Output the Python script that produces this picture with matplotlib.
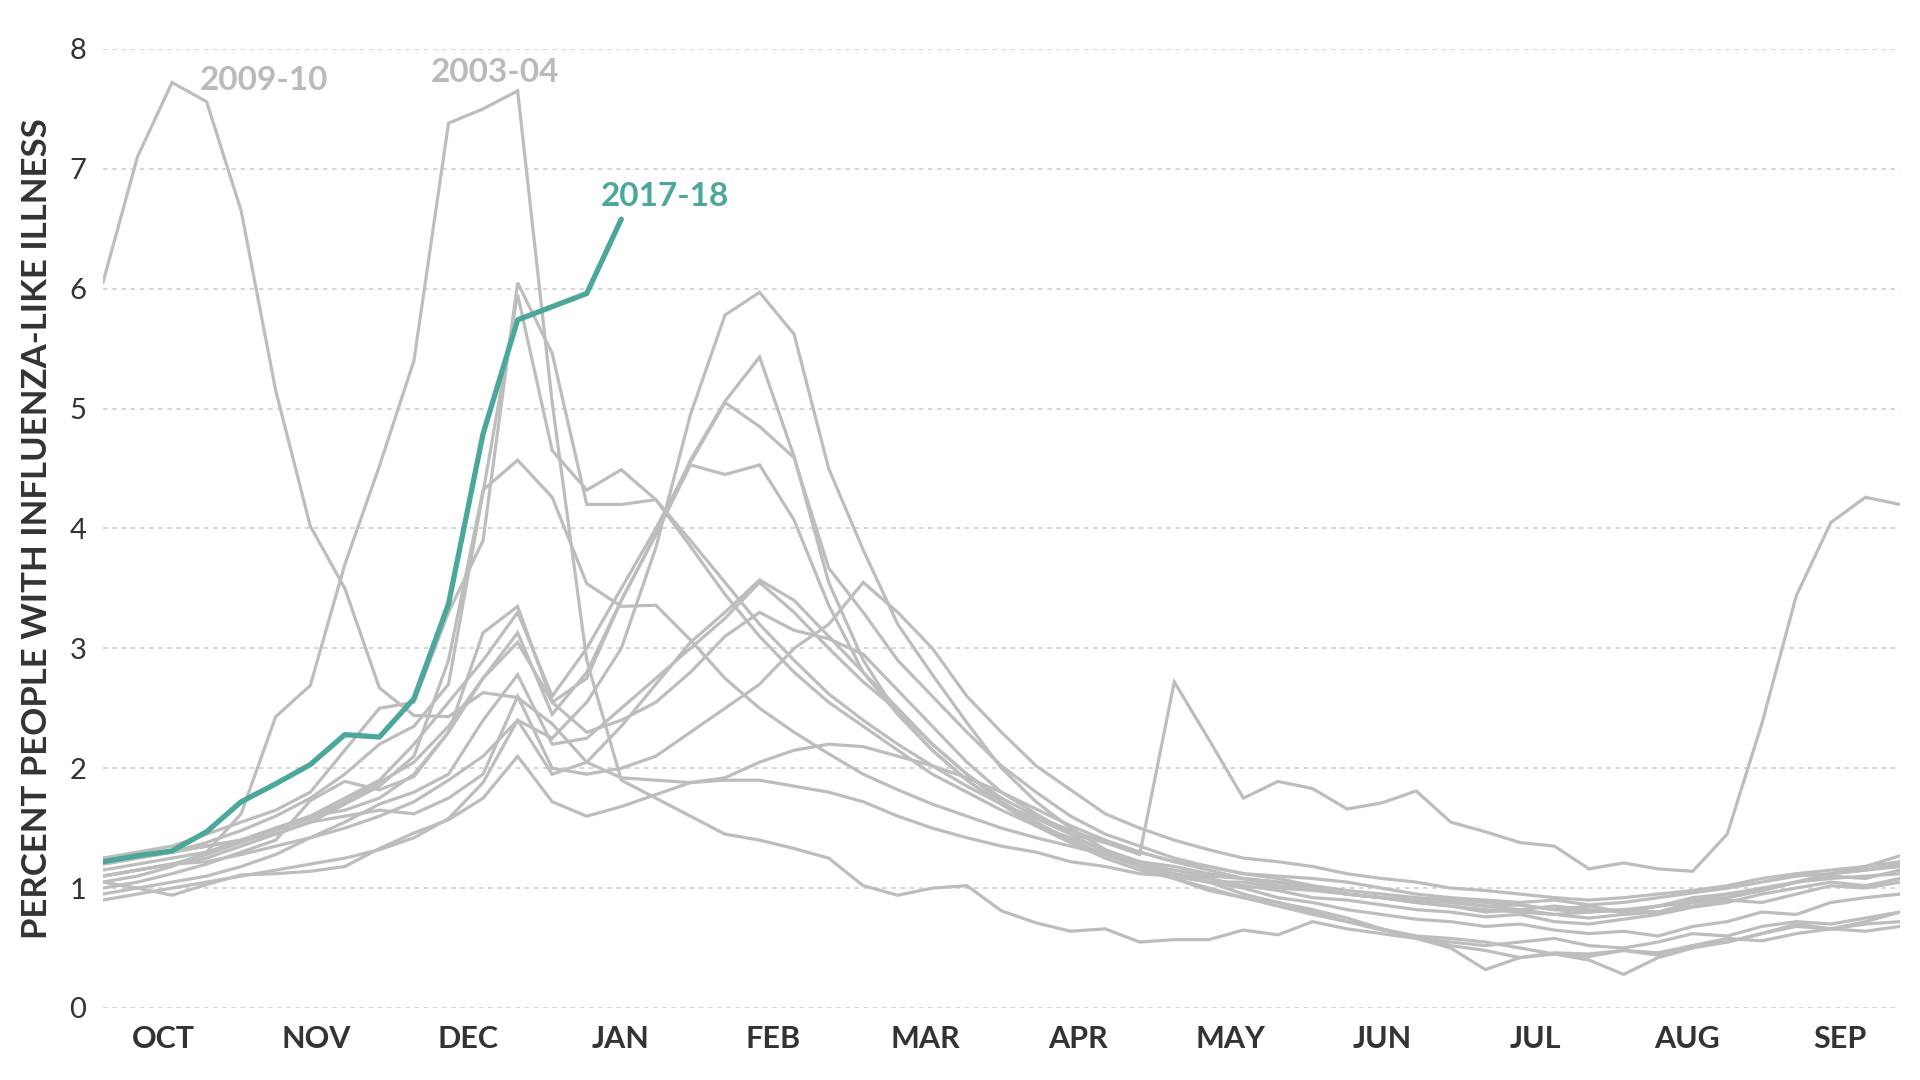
import matplotlib
matplotlib.use("Agg")
import matplotlib.pyplot as plt

plt.rcParams['font.family'] = ['Lato', 'DejaVu Sans']

# weekly ILI % from week 40 (early October) to week 39 of the next year
s0304 = [1.05, 1.10, 1.18, 1.30, 1.62, 2.43, 2.69, 3.70, 4.52, 5.40, 7.38, 7.50, 7.65,
         5.05, 2.90, 1.90, 1.75, 1.60, 1.45, 1.40, 1.33, 1.25, 1.02, 0.94, 1.00, 1.02,
         0.81, 0.71, 0.64, 0.66, 0.55, 0.57, 0.57, 0.65, 0.61, 0.72, 0.66, 0.62, 0.58,
         0.55, 0.52, 0.55, 0.58, 0.52, 0.50, 0.55, 0.62, 0.60, 0.68, 0.72, 0.70, 0.75, 0.80]
s0405 = [1.10, 1.15, 1.20, 1.28, 1.38, 1.48, 1.58, 1.72, 1.88, 2.05, 2.35, 2.75, 3.05,
         2.55, 2.75, 3.40, 3.95, 4.57, 5.06, 5.43, 4.60, 3.55, 2.90, 2.45, 2.15, 1.90,
         1.70, 1.52, 1.38, 1.25, 1.15, 1.08, 0.98, 0.92, 0.88, 0.80, 0.72, 0.65, 0.60,
         0.52, 0.48, 0.42, 0.45, 0.43, 0.48, 0.46, 0.52, 0.55, 0.62, 0.68, 0.66, 0.70, 0.72]
s0506 = [1.00, 1.05, 1.12, 1.20, 1.30, 1.40, 1.73, 1.89, 1.82, 1.93, 2.30, 3.13, 3.35,
         2.55, 2.30, 2.40, 2.55, 2.80, 3.10, 3.30, 3.15, 3.08, 2.95, 2.65, 2.35, 2.05,
         1.80, 1.62, 1.45, 1.30, 1.22, 1.10, 1.05, 0.95, 0.88, 0.82, 0.75, 0.66, 0.58,
         0.50, 0.32, 0.42, 0.46, 0.45, 0.48, 0.44, 0.52, 0.58, 0.56, 0.62, 0.66, 0.64, 0.68]
s0607 = [0.95, 1.00, 1.05, 1.10, 1.18, 1.28, 1.42, 1.55, 1.70, 1.80, 1.95, 2.40, 2.78,
         2.20, 2.25, 2.50, 2.75, 3.00, 3.25, 3.55, 3.30, 3.00, 2.72, 2.48, 2.20, 1.95,
         1.72, 1.55, 1.40, 1.28, 1.18, 1.08, 1.00, 0.92, 0.85, 0.78, 0.72, 0.66, 0.60,
         0.58, 0.55, 0.50, 0.45, 0.40, 0.28, 0.42, 0.50, 0.55, 0.62, 0.70, 0.66, 0.72, 0.80]
s0708 = [0.90, 0.95, 1.00, 1.05, 1.10, 1.15, 1.20, 1.25, 1.32, 1.42, 1.58, 1.88, 2.40,
         2.25, 2.55, 3.00, 3.84, 4.95, 5.78, 5.97, 5.62, 4.50, 3.82, 3.20, 2.78, 2.38,
         2.00, 1.72, 1.50, 1.32, 1.20, 1.12, 1.05, 1.00, 0.92, 0.88, 0.82, 0.78, 0.74,
         0.72, 0.68, 0.70, 0.65, 0.62, 0.64, 0.60, 0.68, 0.72, 0.80, 0.78, 0.88, 0.92, 0.95]
s0809 = [1.10, 1.15, 1.20, 1.22, 1.28, 1.35, 1.42, 1.50, 1.60, 1.72, 1.90, 2.10, 2.40,
         1.95, 2.05, 2.35, 2.70, 3.05, 3.30, 3.57, 3.40, 3.10, 2.80, 2.50, 2.20, 1.95,
         1.75, 1.60, 1.48, 1.38, 1.28, 2.72, 2.24, 1.75, 1.89, 1.83, 1.66, 1.71, 1.81,
         1.55, 1.47, 1.38, 1.35, 1.16, 1.21, 1.16, 1.14, 1.45, 2.37, 3.44, 4.05, 4.26, 4.20]
s0910 = [6.05, 7.10, 7.72, 7.56, 6.65, 5.15, 4.02, 3.50, 2.67, 2.44, 2.43, 2.63, 2.59,
         2.37, 2.05, 1.92, 1.90, 1.88, 1.90, 1.90, 1.85, 1.80, 1.72, 1.60, 1.50, 1.42,
         1.35, 1.30, 1.22, 1.18, 1.12, 1.10, 1.05, 1.05, 1.00, 0.98, 0.95, 0.92, 0.90,
         0.88, 0.85, 0.86, 0.82, 0.80, 0.82, 0.85, 0.88, 0.92, 0.98, 1.05, 1.08, 1.10, 1.12]
s1011 = [1.15, 1.20, 1.25, 1.30, 1.40, 1.50, 1.60, 1.65, 1.75, 1.95, 2.30, 2.75, 3.13,
         2.45, 2.80, 3.40, 3.95, 4.53, 4.45, 4.53, 4.07, 3.36, 2.80, 2.45, 2.15, 1.90,
         1.70, 1.52, 1.38, 1.28, 1.18, 1.12, 1.08, 1.02, 0.98, 0.92, 0.90, 0.86, 0.82,
         0.80, 0.76, 0.78, 0.72, 0.70, 0.74, 0.78, 0.84, 0.88, 0.95, 1.00, 1.05, 1.02, 1.08]
s1112 = [1.05, 1.00, 0.94, 1.03, 1.11, 1.12, 1.14, 1.18, 1.33, 1.46, 1.57, 1.75, 2.10,
         1.72, 1.60, 1.68, 1.78, 1.88, 1.92, 2.05, 2.15, 2.20, 2.18, 2.10, 2.02, 1.92,
         1.80, 1.66, 1.52, 1.40, 1.30, 1.22, 1.15, 1.08, 1.05, 1.00, 0.95, 0.92, 0.88,
         0.85, 0.80, 0.82, 0.78, 0.75, 0.78, 0.80, 0.85, 0.90, 0.88, 0.95, 1.02, 1.00, 1.05]
s1213 = [1.20, 1.25, 1.30, 1.38, 1.48, 1.60, 1.75, 1.95, 2.20, 2.35, 2.70, 4.30, 5.95,
         4.65, 4.32, 4.49, 4.24, 3.85, 3.45, 3.10, 2.80, 2.55, 2.35, 2.15, 1.95, 1.80,
         1.65, 1.52, 1.42, 1.32, 1.22, 1.18, 1.12, 1.08, 1.05, 1.00, 0.95, 0.92, 0.88,
         0.85, 0.82, 0.80, 0.78, 0.80, 0.82, 0.80, 0.88, 0.92, 0.98, 1.05, 1.12, 1.18, 1.27]
s1314 = [1.10, 1.15, 1.20, 1.25, 1.35, 1.45, 1.55, 1.70, 1.85, 2.10, 2.90, 4.32, 4.57,
         4.26, 3.54, 3.35, 3.36, 3.07, 2.75, 2.50, 2.30, 2.12, 1.95, 1.82, 1.70, 1.60,
         1.50, 1.42, 1.35, 1.28, 1.20, 1.15, 1.10, 1.08, 1.02, 1.00, 0.95, 0.92, 0.90,
         0.88, 0.85, 0.82, 0.85, 0.82, 0.80, 0.85, 0.90, 0.95, 1.00, 1.05, 1.12, 1.15, 1.20]
s1415 = [1.25, 1.30, 1.35, 1.45, 1.55, 1.65, 1.80, 2.15, 2.50, 2.55, 3.30, 3.90, 6.05,
         5.46, 4.20, 4.20, 4.24, 3.90, 3.55, 3.20, 2.90, 2.62, 2.40, 2.20, 2.02, 1.85,
         1.70, 1.58, 1.45, 1.38, 1.30, 1.22, 1.18, 1.12, 1.10, 1.08, 1.05, 1.00, 0.95,
         0.92, 0.90, 0.88, 0.90, 0.86, 0.88, 0.92, 0.96, 1.00, 1.05, 1.10, 1.12, 1.15, 1.18]
s1516 = [1.25, 1.28, 1.30, 1.35, 1.40, 1.45, 1.55, 1.60, 1.65, 1.62, 1.75, 1.95, 2.60,
         2.00, 1.95, 2.00, 2.10, 2.30, 2.50, 2.70, 3.00, 3.20, 3.55, 3.30, 3.00, 2.60,
         2.30, 2.02, 1.82, 1.62, 1.50, 1.40, 1.32, 1.25, 1.22, 1.18, 1.12, 1.08, 1.05,
         1.00, 0.98, 0.95, 0.92, 0.90, 0.92, 0.95, 0.98, 1.02, 1.08, 1.12, 1.15, 1.18, 1.22]
s1617 = [1.20, 1.25, 1.30, 1.35, 1.40, 1.50, 1.60, 1.75, 1.90, 2.20, 2.55, 2.90, 3.30,
         2.60, 3.00, 3.50, 4.00, 4.55, 5.05, 4.85, 4.59, 3.67, 3.30, 2.90, 2.60, 2.30,
         2.02, 1.80, 1.60, 1.45, 1.35, 1.25, 1.18, 1.12, 1.08, 1.02, 0.98, 0.95, 0.92,
         0.90, 0.88, 0.86, 0.82, 0.85, 0.80, 0.85, 0.92, 0.95, 0.98, 1.05, 1.10, 1.08, 1.15]
s1718 = [1.22, 1.27, 1.31, 1.47, 1.72, 1.87, 2.03, 2.28, 2.26, 2.58, 3.37, 4.79, 5.74,
         5.85, 5.96, 6.58]

past_seasons = [s0304, s0405, s0506, s0607, s0708, s0809, s0910,
                s1011, s1112, s1213, s1314, s1415, s1516, s1617]

months = ['OCT', 'NOV', 'DEC', 'JAN', 'FEB', 'MAR', 'APR', 'MAY', 'JUN', 'JUL', 'AUG', 'SEP']
month_pos = [1.75 + 4.41 * i for i in range(12)]

grey = '#bdbdbd'
teal = '#4ba69c'

fig = plt.figure(figsize=(19.2, 10.8), dpi=100)
ax = fig.add_axes([0.0536, 0.0667, 0.936, 0.888])

for s in past_seasons:
    ax.plot(range(len(s)), s, color=grey, lw=2.3, solid_joinstyle='miter', zorder=2)
ax.plot(range(len(s1718)), s1718, color=teal, lw=3.8, solid_capstyle='round', zorder=3)

ax.text(2.8, 7.74, '2009-10', color='#bababa', fontsize=24, fontweight='bold', va='center')
ax.text(9.5, 7.80, '2003-04', color='#bababa', fontsize=24, fontweight='bold', va='center')
ax.text(14.4, 6.77, '2017-18', color=teal, fontsize=24, fontweight='bold', va='center')

ax.set_xlim(0, 52)
ax.set_ylim(0, 8)
ax.set_yticks(range(0, 9))
ax.set_yticklabels([str(v) for v in range(0, 9)], fontsize=21, color='#333333')
ax.set_xticks(month_pos)
ax.set_xticklabels(months, fontsize=22, fontweight='bold', color='#333333')
ax.tick_params(axis='both', length=0)
ax.tick_params(axis='y', pad=12)
ax.tick_params(axis='x', pad=12)
ax.grid(axis='y', color='#cccccc', linestyle=(0, (3, 3)), lw=1.1)
ax.set_axisbelow(True)
for sp in ax.spines.values():
    sp.set_visible(False)

ax.set_ylabel('PERCENT PEOPLE WITH INFLUENZA-LIKE ILLNESS', fontsize=25, fontweight='bold',
              color='#333333', labelpad=12)

fig.savefig('out.png', dpi=100)
